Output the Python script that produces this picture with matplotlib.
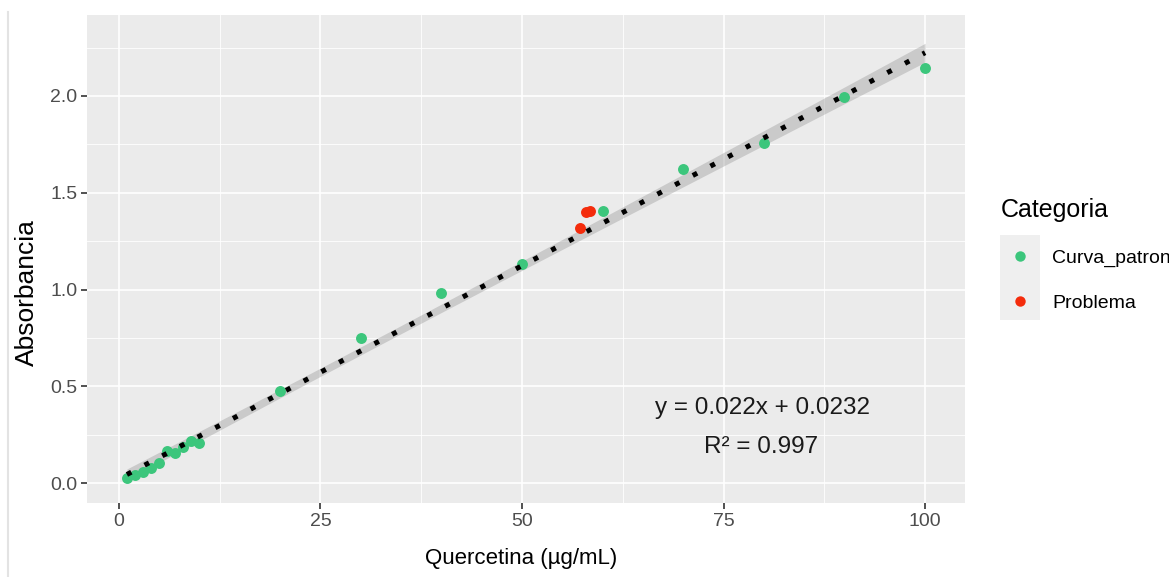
import numpy as np
import matplotlib
matplotlib.use('Agg')
import matplotlib.pyplot as plt
from matplotlib.lines import Line2D
from matplotlib.patches import Rectangle

plt.rcParams['font.family'] = ['Liberation Sans', 'DejaVu Sans']

# ===== 数据 =====
conc_patron = [1, 2, 3, 4, 5, 6, 7, 8, 9, 10, 20, 30, 40, 50, 60, 70, 80, 90, 100]
abs_patron = [0.026, 0.042, 0.059, 0.081, 0.105, 0.167, 0.157, 0.187, 0.218, 0.208,
              0.477, 0.750, 0.983, 1.133, 1.406, 1.623, 1.757, 1.995, 2.142]
conc_problema = [57.2, 57.9, 58.5]
abs_problema = [1.317, 1.402, 1.407]

slope = 0.022
intercept = 0.0232
r2_text = 'R\u00b2 = 0.997'
eq_text = 'y = 0.022x + 0.0232'

x_ticks = [0, 25, 50, 75, 100]
y_ticks = [0.0, 0.5, 1.0, 1.5, 2.0]

COLORS = {
    'Curva_patron': '#3CC67C',
    'Problema': '#F42C0C',
}

W, H = 1169, 577
fig = plt.figure(figsize=(W / 100, H / 100), dpi=100)
ax = fig.add_axes([87 / W, 1 - 503 / H, (965 - 87) / W, (503 - 15) / H])
ax.set_facecolor('#EBEBEB')
for s in ax.spines.values():
    s.set_visible(False)

# --- 回归线 + 置信带 ---
x_arr = np.array(conc_patron, dtype=float)
y_arr = np.array(abs_patron)
n = len(x_arr)
resid = y_arr - (slope * x_arr + intercept)
s_err = np.sqrt(np.sum(resid ** 2) / (n - 2))
sxx = np.sum((x_arr - x_arr.mean()) ** 2)
t_val = 2.11
xs = np.linspace(x_arr.min(), x_arr.max(), 200)
ys = slope * xs + intercept
half = t_val * s_err * np.sqrt(1 / n + (xs - x_arr.mean()) ** 2 / sxx)
ax.fill_between(xs, ys - half, ys + half, color='#999999', alpha=0.4, lw=0, zorder=2)
ax.plot(xs, ys, color='black', lw=3.6, linestyle=(0, (1, 3)), zorder=4)

# --- 散点 ---
ax.scatter(conc_patron, abs_patron, s=62, color=COLORS['Curva_patron'], lw=0, zorder=3)
ax.scatter(conc_problema, abs_problema, s=62, color=COLORS['Problema'], lw=0, zorder=3)

# --- 坐标轴 ---
ax.set_xlim(-3.95, 104.95)
ax.set_ylim(-0.102, 2.418)
ax.set_xticks(x_ticks)
ax.set_yticks(y_ticks)
ax.set_xticklabels([str(v) for v in x_ticks])
ax.set_yticklabels([f'{v:.1f}' for v in y_ticks])
ax.set_xticks([12.5, 37.5, 62.5, 87.5], minor=True)
ax.set_yticks([0.25, 0.75, 1.25, 1.75, 2.25], minor=True)
ax.grid(which='major', color='white', lw=1.2, zorder=0)
ax.grid(which='minor', color='white', lw=0.6, zorder=0)
ax.set_axisbelow(True)
ax.tick_params(which='major', length=4, width=1.2, color='#333333',
               labelcolor='#4D4D4D', labelsize=14, pad=3)
ax.tick_params(which='minor', length=0)

ax.set_xlabel('Quercetina (\u00b5g/mL)', fontsize=16, va='center')
ax.xaxis.set_label_coords(0.494, -0.113)
ax.set_ylabel('Absorbancia', fontsize=19, va='center', ha='center')
ax.yaxis.set_label_coords(-0.068, 0.432)

# --- 方程与 R² ---
ax.text(79.8, 0.389, eq_text, fontsize=17.5, ha='center', va='center', color='#1A1A1A')
ax.text(79.6, 0.189, r2_text, fontsize=17.5, ha='center', va='center', color='#1A1A1A')

# --- 图例 ---
fig.add_artist(Rectangle((1000 / W, 1 - 320 / H), 40 / W, 85 / H,
                         transform=fig.transFigure, color='#EFEFEF', lw=0, zorder=0))
handles = [Line2D([], [], marker='o', ls='none', markersize=7.5, markeredgewidth=0,
                  color=COLORS[k]) for k in COLORS]
leg = fig.legend(handles, list(COLORS.keys()), title='Categoria', loc='upper left',
                 bbox_to_anchor=(993 / W, 1 - 190 / H), frameon=False, fontsize=14,
                 title_fontsize=18, alignment='left', handletextpad=0.65,
                 labelspacing=1.4, borderaxespad=0)

# 左侧细灰线
fig.add_artist(Line2D([8 / W, 8 / W], [0, 1 - 12 / H], transform=fig.transFigure,
                      color='#E3E3E3', lw=1.5))

fig.savefig('out.png', dpi=100)
